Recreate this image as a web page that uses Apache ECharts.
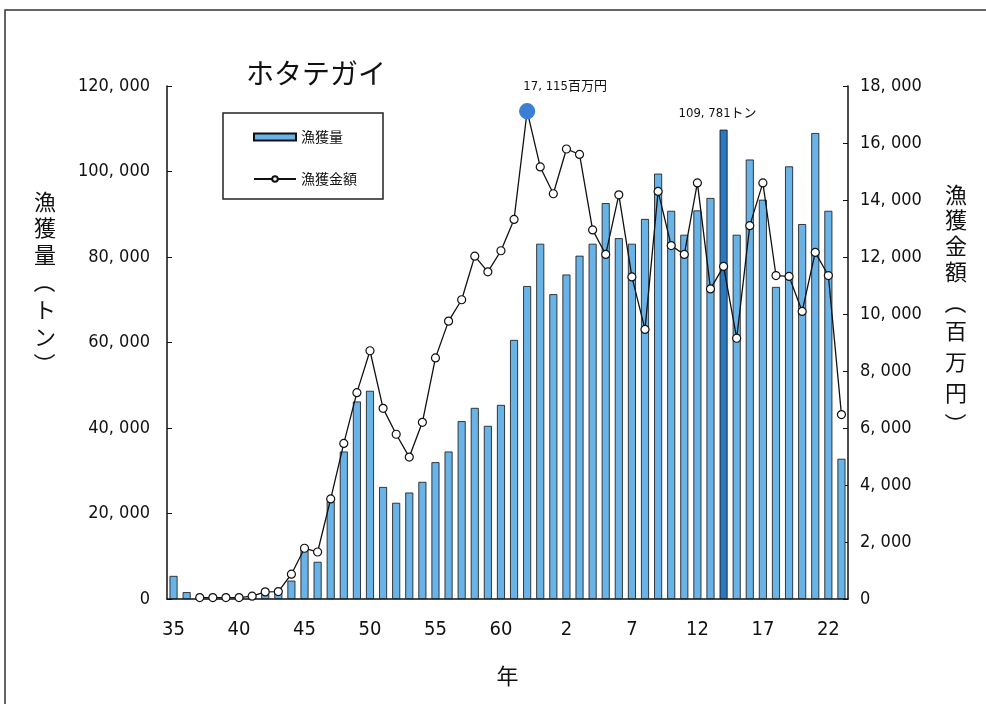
<!DOCTYPE html>
<html>
<head>
<meta charset="utf-8">
<script src="https://cdn.jsdelivr.net/npm/echarts@6/dist/echarts.min.js"></script>
<style>
html,body{margin:0;padding:0;background:#fff;}
#c{width:986px;height:704px;}
</style>
</head>
<body>
<div id="c"></div>
<script>
const categories = ['35','36','37','38','39','40','41','42','43','44','45','46','47','48','49','50','51','52','53','54','55','56','57','58','59','60','61','62','63',
  '1','2','3','4','5','6','7','8','9','10','11','12','13','14','15','16','17','18','19','20','21','22','23'];
const catchTons = [5400,1600,300,200,300,300,900,1200,1400,4300,11500,8700,22800,34500,46200,48700,26200,22500,24900,27400,32000,34500,41600,44700,40500,45400,60600,73200,83100,
  71300,75900,80300,83100,92600,84400,83100,88900,99500,90800,85200,90900,93800,109781,85200,102800,93400,73000,101200,87700,109000,90800,32800];
const catchValue = [null,null,50,50,50,50,100,250,260,870,1780,1650,3510,5460,7240,8710,6690,5780,4980,6200,8460,9750,10500,12030,11480,12220,13320,17115,15160,
  14220,15790,15600,12950,12090,14180,11300,9460,14300,12400,12090,14600,10880,11670,9150,13100,14600,11350,11320,10090,12160,11350,6470];
const leftTicks = {min:0, max:120000, interval:20000};
const rightTicks = {min:0, max:18000, interval:2000};
const seriesNames = ['漁獲量','漁獲金額'];
const leftName = ['漁','獲','量','（','ト','ン','）'];
const rightName = ['漁','獲','金','額','（','百','万','円','）'];

const NUMFONT = "'DejaVu Sans Condensed','Noto Sans CJK JP',sans-serif";
const JPFONT = "'Noto Sans CJK JP',sans-serif";
const fmt = v => String(v).replace(/\B(?=(\d{3})+(?!\d))/g, ', ');

const maxTonIdx = catchTons.indexOf(Math.max(...catchTons));
const maxValIdx = catchValue.indexOf(Math.max(...catchValue.filter(v=>v!==null)));

const barData = catchTons.map((v,i)=> i===maxTonIdx ? {
  value:v,
  itemStyle:{color:'#2B78BE'},
  label:{show:true, position:'top', formatter:()=>fmt(v)+'トン', offset:[-6,-5],
    fontFamily:NUMFONT, fontSize:13, color:'#111'}
} : v);
const lineData = catchValue.map((v,i)=> i===maxValIdx ? {
  value:v, symbolSize:15,
  itemStyle:{color:'#3A7FD5', borderColor:'#3A7FD5'},
  label:{show:true, position:'top', formatter:()=>fmt(v)+'百万円', offset:[38,-5],
    fontFamily:NUMFONT, fontSize:13, color:'#111'}
} : v);

function vertName(chars, x, ys){
  return chars.map((ch,i)=>({
    type:'text', x:x, y:ys[i],
    rotation:(ch==='（'||ch==='）') ? -Math.PI/2 : 0,
    style:{text:ch, font:"22px 'Noto Sans CJK JP'", fill:'#111', textAlign:'center', textVerticalAlign:'middle'},
    silent:true
  }));
}

const chart = echarts.init(document.getElementById('c'), null, {renderer:'canvas'});
chart.setOption({
  backgroundColor:'#fff',
  animation:false,
  title:{text:'ホタテガイ', left:241, top:54, textStyle:{fontFamily:JPFONT, fontSize:28, fontWeight:'normal', color:'#111'}},
  legend:{
    left:223, top:113, orient:'vertical', itemGap:28,
    padding:[17,26,13,30], borderColor:'#222', borderWidth:1.5,
    itemWidth:42, itemHeight:7,
    textStyle:{fontFamily:JPFONT, fontSize:14, color:'#111'},
    data:[{name:seriesNames[0], icon:'rect'},{name:seriesNames[1]}]
  },
  grid:{left:167, right:138, top:86, bottom:105},
  xAxis:{
    type:'category', data:categories, boundaryGap:true,
    name:'年', nameLocation:'middle', nameGap:66,
    nameTextStyle:{fontFamily:JPFONT, fontSize:22, color:'#111'},
    axisLine:{lineStyle:{color:'#111', width:1.5}},
    axisTick:{inside:true, length:5, interval:0, lineStyle:{color:'#111'}},
    axisLabel:{interval:4, margin:21, fontFamily:NUMFONT, fontSize:20, color:'#111'}
  },
  yAxis:[
    {type:'value', min:leftTicks.min, max:leftTicks.max, interval:leftTicks.interval,
     axisLine:{show:true, lineStyle:{color:'#111', width:1.5}},
     axisTick:{show:true, inside:true, length:5, lineStyle:{color:'#111'}},
     splitLine:{show:false},
     axisLabel:{margin:17, formatter:v=>fmt(v), fontFamily:NUMFONT, fontSize:18, color:'#111'}},
    {type:'value', min:rightTicks.min, max:rightTicks.max, interval:rightTicks.interval,
     axisLine:{show:true, lineStyle:{color:'#111', width:1.5}},
     axisTick:{show:true, inside:true, length:5, lineStyle:{color:'#111'}},
     splitLine:{show:false},
     axisLabel:{margin:12, formatter:v=>fmt(v), fontFamily:NUMFONT, fontSize:18, color:'#111'}}
  ],
  series:[
    {name:seriesNames[0], type:'bar', yAxisIndex:0, data:barData, barWidth:8,
     itemStyle:{color:'#69B3E7', borderColor:'#111', borderWidth:0.8}},
    {name:seriesNames[1], type:'line', yAxisIndex:1, data:lineData,
     symbol:'circle', symbolSize:8, showAllSymbol:true, connectNulls:false,
     lineStyle:{color:'#111', width:1.3},
     itemStyle:{color:'#fff', borderColor:'#111', borderWidth:1.2}, z:5}
  ],
  graphic:[
    {type:'rect', shape:{x:5, y:10, width:1000, height:720}, style:{fill:null, stroke:'#333', lineWidth:1.5}, silent:true}
  ].concat(
    vertName(leftName, 45, [202,228,255,282,310,337,364]),
    vertName(rightName, 956, [195,220,246,272,303,331,362,393,424])
  )
});
</script>
</body>
</html>
